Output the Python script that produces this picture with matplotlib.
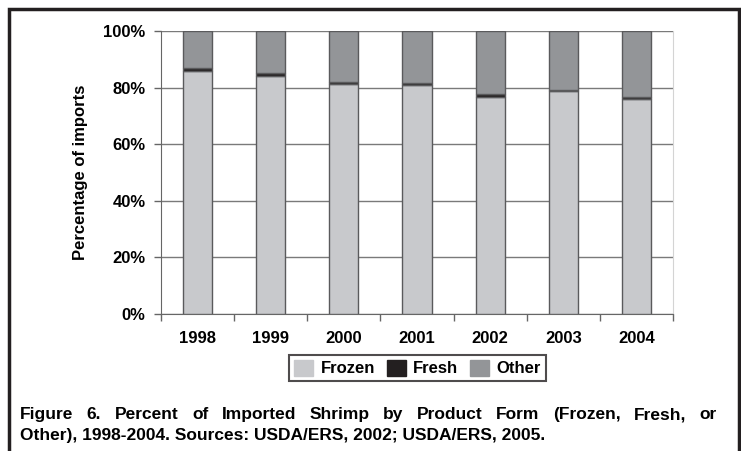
import numpy as np
import matplotlib
matplotlib.use('Agg')
import matplotlib.pyplot as plt
from matplotlib.patches import Rectangle, Patch

years = ['1998', '1999', '2000', '2001', '2002', '2003', '2004']
frozen = [86.0, 84.2, 81.4, 80.8, 76.8, 78.9, 76.1]
fresh = [1.0, 0.8, 0.7, 0.7, 0.8, 0.4, 0.6]
other = [100 - a - b for a, b in zip(frozen, fresh)]

caption1 = 'Figure 6. Percent of Imported Shrimp by Product Form (Frozen, Fresh, or'
caption2 = 'Other), 1998-2004. Sources: USDA/ERS, 2002; USDA/ERS, 2005.'

plt.rcParams['font.family'] = ['Liberation Sans', 'DejaVu Sans']
plt.rcParams['font.weight'] = 'bold'

W, H = 741, 451
fig = plt.figure(figsize=(W / 100, H / 100), dpi=100)

# axes box in pixel coords: left 161, right 673, top 31, bottom 314
ax = fig.add_axes([161 / W, 1 - 314 / H, (673 - 161) / W, (314 - 31) / H])

c_frozen, c_fresh, c_other = '#c8c9cc', '#231f20', '#939598'
x = np.arange(len(years))
bw = 0.4
edge = dict(edgecolor='#5a5a5c', linewidth=1.0, zorder=3)
ax.bar(x, frozen, bw, color=c_frozen, **edge)
ax.bar(x, fresh, bw, bottom=frozen, color=c_fresh, **edge)
ax.bar(x, other, bw, bottom=np.array(frozen) + np.array(fresh), color=c_other, **edge)

ax.set_xlim(-0.5, len(years) - 0.5)
ax.set_ylim(0, 100)
ax.set_yticks(np.arange(0, 101, 20))
ax.set_yticklabels([f'{v}%' for v in range(0, 101, 20)], fontsize=12, fontweight='bold')
ax.yaxis.grid(True, color='#7a7a7a', linewidth=1.0, zorder=0)
ax.set_axisbelow(True)

ax.set_xticks(x)
ax.set_xticklabels(years, fontsize=12, fontweight='bold')
ax.set_xticks(np.arange(-0.5, len(years), 1), minor=True)
ax.tick_params(axis='x', which='major', length=0, pad=12)
ax.tick_params(axis='x', which='minor', length=5, color='#666666', width=1)
ax.tick_params(axis='y', length=5, color='#666666', width=1, pad=6)

ax.spines['top'].set_visible(False)
ax.spines['left'].set_color('#666666')
ax.spines['bottom'].set_color('#666666')
ax.spines['right'].set_color('#d4d4d4')

ax.set_ylabel('Percentage of imports', fontsize=12, fontweight='bold', labelpad=11)

handles = [Patch(facecolor=c_frozen, edgecolor=c_frozen),
           Patch(facecolor=c_fresh, edgecolor=c_fresh),
           Patch(facecolor=c_other, edgecolor=c_other)]
leg = fig.legend(handles, ['Frozen', 'Fresh', 'Other'], ncol=3,
                 loc='center', bbox_to_anchor=(417.5 / W, 1 - 368 / H),
                 frameon=True, fancybox=False, edgecolor='#231f20',
                 handlelength=1.15, handleheight=1.15,
                 handletextpad=0.45, columnspacing=0.7, borderpad=0.3,
                 borderaxespad=0, prop={'weight': 'bold', 'size': 12})
leg.get_frame().set_linewidth(1.5)

# caption: first line justified to the full width, second line left aligned
renderer = fig.canvas.get_renderer()
cap_font = dict(fontsize=12.5, fontweight='bold')
x0, x1 = 20, 717

words = caption1.split(' ')
arts = [fig.text(0, 1 - 419 / H, w, va='baseline', ha='left', **cap_font) for w in words]
widths = [a.get_window_extent(renderer).width for a in arts]
gap = (x1 - x0 - sum(widths)) / (len(words) - 1)
pos = x0
for a, w in zip(arts, widths):
    a.set_x(pos / W)
    pos += w + gap

fig.text(x0 / W, 1 - 440 / H, caption2, va='baseline', ha='left', **cap_font)

# outer frame
fig.patches.append(Rectangle((9 / W, -0.05), (739 - 9) / W, 1.05 - 9 / H,
                             transform=fig.transFigure, fill=False,
                             edgecolor='#231f20', linewidth=2.5))

fig.savefig('out.png', dpi=100)
